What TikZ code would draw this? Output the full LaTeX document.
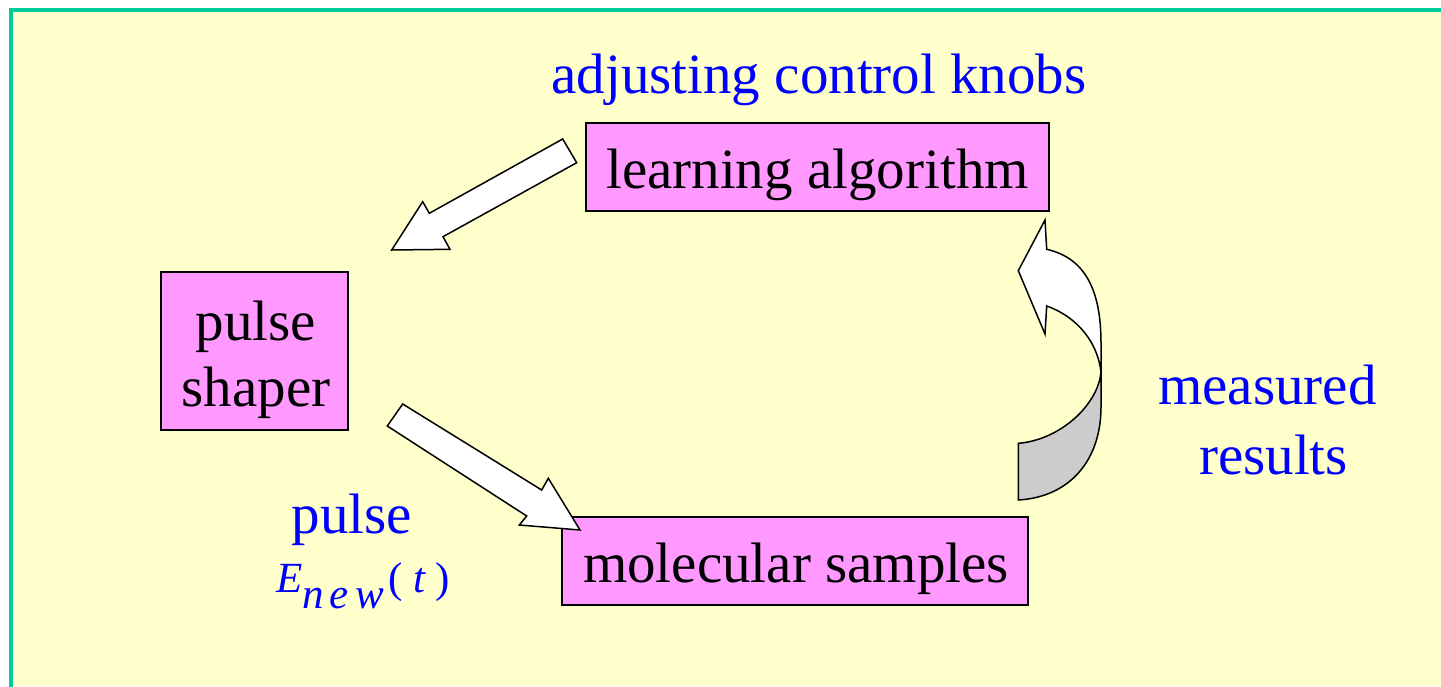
\documentclass[tikz,border=0pt]{standalone}
\usepackage{fontspec}
\setmainfont{Liberation Serif}
\definecolor{bgyellow}{RGB}{255,255,204}
\definecolor{framegreen}{RGB}{0,204,153}
\definecolor{boxpink}{RGB}{255,153,255}
\definecolor{backgray}{RGB}{204,204,204}
\begin{document}
\begin{tikzpicture}[x=1pt,y=-1pt,
  box/.style={draw=black,fill=boxpink,line width=1.5pt,inner sep=0pt},
  big/.style={font=\fontsize{57}{68}\selectfont,inner sep=0pt,anchor=base},
  blabel/.style={big,text=blue},
  blockarrow/.style={draw=black,fill=white,line width=1.5pt,line join=miter},
  backarrow/.style={draw=black,fill=backgray,line width=1.5pt}]
\fill[white] (0,0) rectangle (1441,686);
\useasboundingbox (0,0) rectangle (1441,686);
\fill[bgyellow] (11,11) rectangle (1441,686);
\draw[framegreen,line width=4pt] (11,690) -- (11,10) -- (1445,10);

% boxes
\node[box,minimum width=463pt,minimum height=88pt] (learn) at (817.5,167) {};
\node[box,minimum width=187pt,minimum height=158pt] (shaper) at (254.5,351) {};
\node[box,minimum width=466pt,minimum height=88pt] (mol) at (795,561) {};

\node[big] (learntxt) at (817.5,188.3) {learning algorithm};
\node[big] (shapertxt1) at (256,340) {pulse};
\node[big] (shapertxt2) at (256,406.7) {shaper};
\node[big] (moltxt) at (796,582.5) {molecular samples};

% blue labels
\node[blabel] (knobs) at (819,93.3) {adjusting control knobs};
\node[blabel] (meas1) at (1267.5,404) {measured};
\node[blabel] (meas2) at (1273.5,474) {results};
\node[blabel] (pulse) at (352,533) {pulse};
\node[font=\fontsize{43}{50}\selectfont,text=blue,inner sep=0pt,anchor=base west] (enew) at (276,592)
  {\textit{E}\raisebox{-16pt}{\textit{n\kern6pt e\kern6pt w}}\kern5pt(\kern10pt\textit{t}\kern10pt)};

% block arrow: learning algorithm -> pulse shaper
\draw[blockarrow] (562.7,139) -- (429.3,213.3) -- (422.7,201.7) -- (391.7,250)
  -- (450,249.3) -- (443,236.7) -- (576.7,162.7) -- cycle;
% block arrow: pulse shaper -> molecular samples
\draw[blockarrow] (402.7,404) -- (541.7,490) -- (548.3,478.3) -- (580,530)
  -- (519.3,525) -- (526.7,516) -- (387.3,426) -- cycle;

% curved arrow: molecular samples -> learning algorithm
\draw[backarrow] (1018.3,443.3) .. controls (1060,440) and (1098,405) .. (1101,372)
  -- (1101,407) .. controls (1101,460) and (1070,497) .. (1018.3,500) -- cycle;
\draw[blockarrow] (1045,220) -- (1018.3,270.7) -- (1045,334) -- (1046.7,306)
  .. controls (1080,318) and (1098,345) .. (1101,372)
  -- (1101,343) .. controls (1101,290) and (1085,258) .. (1046.7,249.3) -- cycle;
\end{tikzpicture}
\end{document}
